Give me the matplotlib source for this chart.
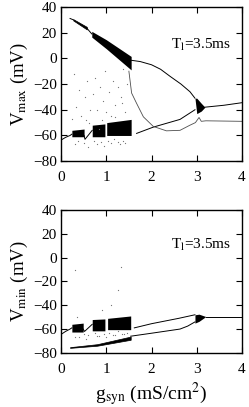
import matplotlib
matplotlib.use('Agg')
import matplotlib.pyplot as plt
import numpy as np

plt.rcParams['font.family'] = ['Liberation Serif', 'DejaVu Serif']
plt.rcParams['mathtext.fontset'] = 'stix'

#%% Data: Vmax panel
# upper chaotic band (x, low, high)
vmax_start_x = [0.2, 0.27]
vmax_start_y = [31, 30]
vmax_band1_x = [0.27, 0.57]
vmax_band1_lo = [29.5, 22.5]
vmax_band1_hi = [30.5, 24.5]
vmax_link_x = [0.57, 0.68]
vmax_link_y = [23.5, 19]
vmax_band2_x = [0.68, 1.0, 1.55]
vmax_band2_lo = [16.5, 7.5, -9]
vmax_band2_hi = [21, 14.5, 1.5]
# periodic branch after the band
vmax_up_x = [1.55, 1.75, 2.0, 2.2, 2.41, 2.65, 2.85, 2.96]
vmax_up_y = [-1.5, -2.5, -5, -8.5, -14, -20, -26, -31]
vmax_wedge_x = [2.96, 3.0, 3.1, 3.18]
vmax_wedge_lo = [-31, -43, -41, -38]
vmax_wedge_hi = [-31, -31, -35, -38]
vmax_tail_x = [3.18, 3.6, 4.0]
vmax_tail_y = [-38, -36.5, -34.5]
# lower chaotic blocks (x0, x1, low0, low1, high0, high1)
vmax_low_x = [0.0, 0.1, 0.2, 0.24]
vmax_low_y = [-63.6, -61.5, -60, -59]
vmax_blocks = [(0.24, 0.51, -61, -61, -56, -55),
               (0.69, 0.97, -61, -61, -52, -51),
               (1.01, 1.55, -60, -60, -50, -47.5)]
vmax_zig_x = [0.51, 0.53, 0.69]
vmax_zig_y = [-60, -63, -56]
vmax_rise_x = [1.67, 2.04, 2.63, 2.96]
vmax_rise_y = [-58.4, -53.5, -47.5, -40]
# thin curve below
vmax_thin_x = [1.5, 1.56, 1.67, 1.82, 2.04, 2.33, 2.63, 2.85, 2.97, 3.05, 3.1, 3.2, 4.0]
vmax_thin_y = [-10, -27, -35, -45.5, -53, -56.4, -56, -52, -50, -46, -49, -48.6, -49]
vmax_dots_x = [0.28, 0.33, 0.4, 0.45, 0.52, 0.58, 0.62, 0.7, 0.75, 0.8, 0.87, 0.92, 0.98,
               1.05, 1.1, 1.15, 1.2, 1.27, 1.33, 1.38, 1.42, 1.46, 0.3, 0.38, 0.5, 0.6,
               0.72, 0.8, 0.88, 0.95, 1.03, 1.1, 1.18, 1.25, 1.3, 1.36, 1.42, 0.55, 0.9,
               1.2, 0.65, 1.0, 1.35, 0.25, 0.85]
vmax_dots_y = [-12, -38, -25, -45, -30, -18, -50, -28, -15, -40, -22, -33, -10,
               -26, -45, -18, -36, -22, -30, -8, -42, -20, -67, -64, -66, -69,
               -64, -67, -65, -68, -64, -66, -63, -65, -67, -64, -66, -48, -48,
               -46, -40, -42, -35, -47, -55]

#%% Data: Vmin panel
vmin_low_x = [0.0, 0.1, 0.2, 0.24]
vmin_low_y = [-64.5, -62, -60, -59]
vmin_blocks = [(0.24, 0.49, -62.5, -62.5, -56, -55),
               (0.69, 0.97, -61.5, -61.5, -52, -51.5),
               (1.03, 1.54, -60.5, -60.5, -51, -49)]
vmin_zig_x = [0.49, 0.52, 0.69]
vmin_zig_y = [-60, -62, -56]
vmin_up_x = [1.62, 2.0, 2.6, 2.96]
vmin_up_y = [-59, -55.5, -51, -48]
vmin_band_x = [0.2, 0.8, 1.54]
vmin_band_lo = [-75.8, -74, -69]
vmin_band_hi = [-75.2, -72.7, -66.3]
vmin_cont_x = [1.54, 2.0, 2.63, 2.8, 2.96]
vmin_cont_y = [-66, -63.5, -60, -57.5, -54]
vmin_wedge_x = [2.96, 3.05, 3.2]
vmin_wedge_lo = [-55, -53.5, -49.5]
vmin_wedge_hi = [-48, -47.5, -49.5]
vmin_tail_x = [3.2, 4.0]
vmin_tail_y = [-49.5, -49.5]
vmin_dots_x = [0.3, 1.32, 1.25, 1.1, 0.35, 0.5, 0.6, 0.75, 0.85, 0.95, 1.05, 1.15, 1.25,
               1.35, 1.45, 0.4, 0.55, 0.8, 1.0, 1.2, 1.4, 0.3, 0.9]
vmin_dots_y = [-10, -8, -27, -40, -50, -64, -65, -63, -66, -64, -63, -65, -62,
               -64, -63, -67, -68, -66, -67, -65, -64, -67, -44]

#%% Plot
fig = plt.figure(figsize=(2.49, 4.07), dpi=100)
ax1 = fig.add_axes([0.245, 0.604, 0.727, 0.379])
ax2 = fig.add_axes([0.245, 0.133, 0.727, 0.351])

def blocks(ax, bl):
    for x0, x1, l0, l1, h0, h1 in bl:
        ax.fill_between([x0, x1], [l0, l1], [h0, h1], color='k', lw=0)

lw = 0.7
ax1.plot(vmax_start_x, vmax_start_y, 'k', lw=lw)
ax1.fill_between(vmax_band1_x, vmax_band1_lo, vmax_band1_hi, color='k', lw=0.5)
ax1.plot(vmax_link_x, vmax_link_y, 'k', lw=lw)
ax1.fill_between(vmax_band2_x, vmax_band2_lo, vmax_band2_hi, color='k', lw=0)
ax1.plot(vmax_up_x, vmax_up_y, 'k', lw=lw)
ax1.fill_between(vmax_wedge_x, vmax_wedge_lo, vmax_wedge_hi, color='k', lw=0)
ax1.plot(vmax_tail_x, vmax_tail_y, 'k', lw=lw)
ax1.plot(vmax_low_x, vmax_low_y, 'k', lw=lw)
blocks(ax1, vmax_blocks)
ax1.plot(vmax_zig_x, vmax_zig_y, 'k', lw=lw)
ax1.plot(vmax_rise_x, vmax_rise_y, 'k', lw=lw)
ax1.plot(vmax_thin_x, vmax_thin_y, color='0.3', lw=0.6)
ax1.scatter(vmax_dots_x, vmax_dots_y, s=0.8, color='0.45', lw=0)
ax1.text(2.42, 7.5, r'T$_\mathrm{l}$=3.5ms', fontsize=11)
ax1.set_ylabel(r'V$_\mathrm{max}$ (mV)', fontsize=13.5, labelpad=2)

ax2.plot(vmin_low_x, vmin_low_y, 'k', lw=lw)
blocks(ax2, vmin_blocks)
ax2.plot(vmin_zig_x, vmin_zig_y, 'k', lw=lw)
ax2.plot(vmin_up_x, vmin_up_y, 'k', lw=lw)
ax2.fill_between(vmin_band_x, vmin_band_lo, vmin_band_hi, color='k', lw=0.5)
ax2.plot(vmin_cont_x, vmin_cont_y, 'k', lw=lw)
ax2.fill_between(vmin_wedge_x, vmin_wedge_lo, vmin_wedge_hi, color='k', lw=0)
ax2.plot(vmin_tail_x, vmin_tail_y, 'k', lw=lw)
ax2.scatter(vmin_dots_x, vmin_dots_y, s=0.8, color='0.45', lw=0)
ax2.text(2.42, 7.5, r'T$_\mathrm{l}$=3.5ms', fontsize=11)
ax2.set_ylabel(r'V$_\mathrm{min}$ (mV)', fontsize=13.5, labelpad=2)
ax2.set_xlabel(r'g$_\mathrm{syn}$ (mS/cm$^2$)', fontsize=14, labelpad=3)

for ax in (ax1, ax2):
    ax.set_xlim(0, 4)
    ax.set_ylim(-80, 40)
    ax.set_xticks([0, 1, 2, 3, 4])
    ax.set_yticks([-80, -60, -40, -20, 0, 20, 40])
    ax.tick_params(direction='in', top=True, right=True, labelsize=11, length=4, width=0.8, pad=3)
    ax.tick_params(axis='x', pad=7)
    for s in ax.spines.values():
        s.set_linewidth(1.0)

plt.savefig('out.png', dpi=100)
